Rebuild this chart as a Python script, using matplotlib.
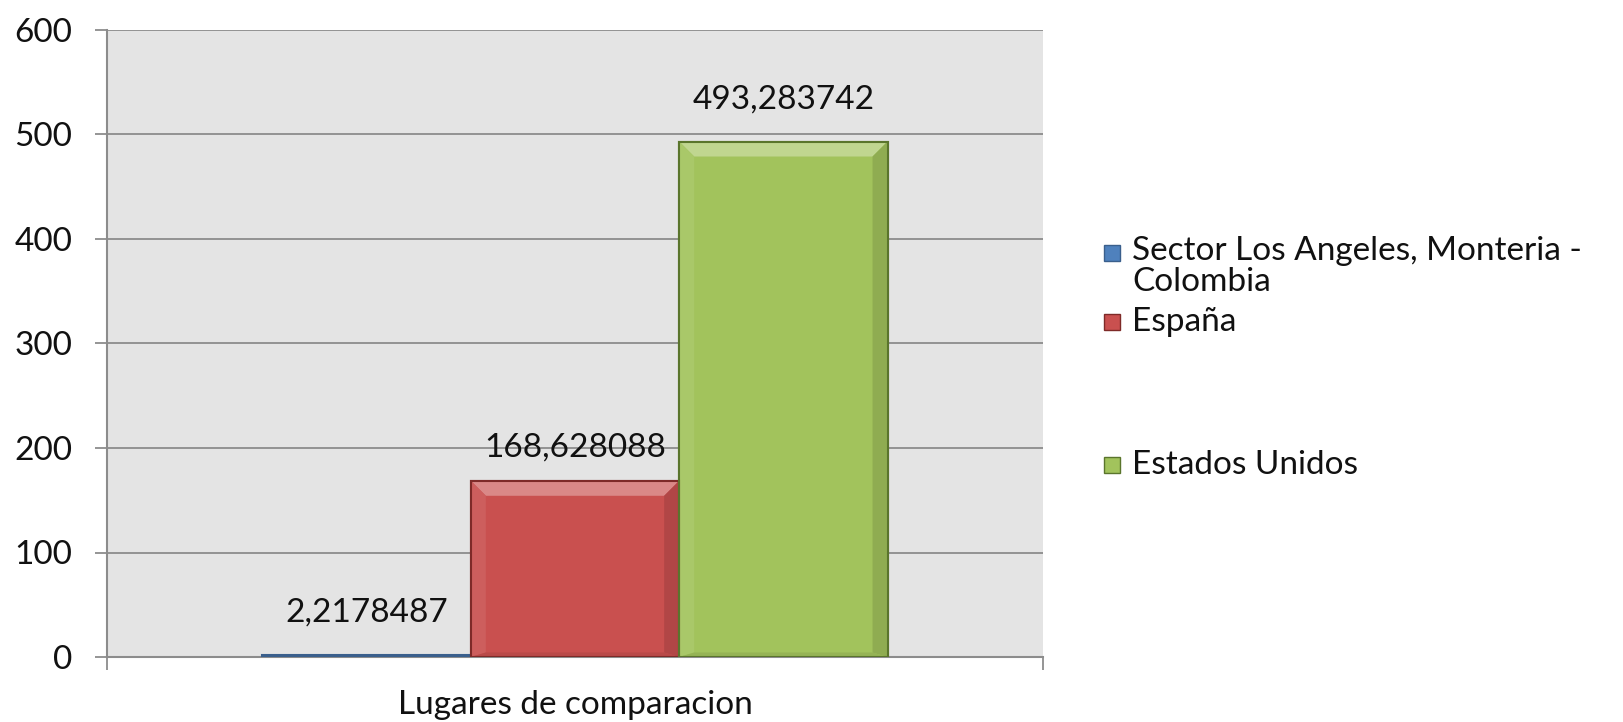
import matplotlib
matplotlib.use("Agg")
import matplotlib.pyplot as plt
from matplotlib.patches import Rectangle, Polygon
import matplotlib.colors as mcolors
import numpy as np

series = ["Sector Los Angeles, Monteria -\nColombia", "España", "Estados Unidos"]
values = [2.2178487, 168.628088, 493.283742]
value_labels = ["2,2178487", "168,628088", "493,283742"]
yticks = [0, 100, 200, 300, 400, 500, 600]
xlabel = "Lugares de comparacion"

colors = ["#4F81BD", "#C9504F", "#A2C35C"]
edges = ["#3A5F8C", "#7E2A28", "#5A752C"]

plt.rcParams['font.family'] = ['Lato', 'DejaVu Sans']
FS = 24

fig = plt.figure(figsize=(16.23, 7.22), dpi=100)
ax = fig.add_axes([107/1623, 1-657/722, (1043-107)/1623, (657-30)/722])
ax.set_facecolor("#E4E4E4")
ax.set_xlim(-0.5, 0.5)
ax.set_ylim(0, 600)

def shade(c, f):
    r = np.array(mcolors.to_rgb(c))
    if f > 0:
        r = r + (1 - r) * f
    else:
        r = r * (1 + f)
    return tuple(np.clip(r, 0, 1))

w = 0.2226
offsets = [-w, 0, w]
bx = 15 / 936 * 1.0
by = 15 / (627 / 600)
for i, (v, c, e) in enumerate(zip(values, colors, edges)):
    bars = ax.bar(offsets[i], v, width=w, color=c, edgecolor=e, linewidth=1.5, zorder=3)
    p = bars[0]
    x0, x1 = p.get_x(), p.get_x() + p.get_width()
    y0, y1 = 0, p.get_height()
    dy = min(by, (y1 - y0) / 2)
    dx = bx if dy == by else 0
    if dx > 0:
        ix0, ix1, iy0, iy1 = x0 + dx, x1 - dx, y0 + dy * 0.3, y1 - dy
        faces = [
            ([(x0, y1), (x1, y1), (ix1, iy1), (ix0, iy1)], shade(c, 0.32)),
            ([(x0, y0), (x0, y1), (ix0, iy1), (ix0, iy0)], shade(c, 0.08)),
            ([(x1, y0), (x1, y1), (ix1, iy1), (ix1, iy0)], shade(c, -0.12)),
            ([(x0, y0), (x1, y0), (ix1, iy0), (ix0, iy0)], shade(c, -0.08)),
        ]
        for pts, fc in faces:
            ax.add_patch(Polygon(pts, closed=True, facecolor=fc, edgecolor="none", zorder=3.5))
        ax.add_patch(Rectangle((x0, y0), x1 - x0, y1 - y0, facecolor="none",
                               edgecolor=e, linewidth=1.5, zorder=3.6))

lab_off = [30, 24, 30]
for i, (v, t) in enumerate(zip(values, value_labels)):
    ax.annotate(t, (offsets[i], v), xytext=(0, lab_off[i]), textcoords="offset points",
                ha="center", va="center", fontsize=FS, color="#111111", zorder=4)

ax.set_yticks(yticks)
ax.set_yticklabels([str(t) for t in yticks], fontsize=FS)
ax.yaxis.grid(True, color="#8C8C8C", linewidth=1.3, zorder=1)
ax.set_axisbelow(True)
ax.set_xticks([-0.5, 0.5])
ax.set_xticklabels(["", ""])
ax.tick_params(axis="y", length=9, width=1.3, color="#8C8C8C", pad=16, labelcolor="#111111")
ax.tick_params(axis="x", length=9, width=1.3, color="#8C8C8C")
for s in ["top", "right"]:
    ax.spines[s].set_visible(False)
for s in ["left", "bottom"]:
    ax.spines[s].set_color("#8C8C8C")
    ax.spines[s].set_linewidth(1.5)
fig.text(575/1623, 1-705/722, xlabel, fontsize=FS, ha="center", va="center", color="#111111")

# legend drawn manually
leg_y = [253, 322, 465]
for i, (name, c, e) in enumerate(zip(series, colors, edges)):
    yc = leg_y[i]
    fig.add_artist(Rectangle((1104/1623, 1-(yc+8)/722), 16/1623, 16/722,
                             transform=fig.transFigure, facecolor=c, edgecolor=e, linewidth=1))
    if i == 0:
        fig.text(1132/1623, 1-(yc-17)/722, name, fontsize=FS, va="top", ha="left",
                 color="#111111", linespacing=1.05)
    else:
        fig.text(1132/1623, 1-yc/722, name, fontsize=FS, va="center", ha="left", color="#111111")

fig.savefig("out.png", dpi=100)
